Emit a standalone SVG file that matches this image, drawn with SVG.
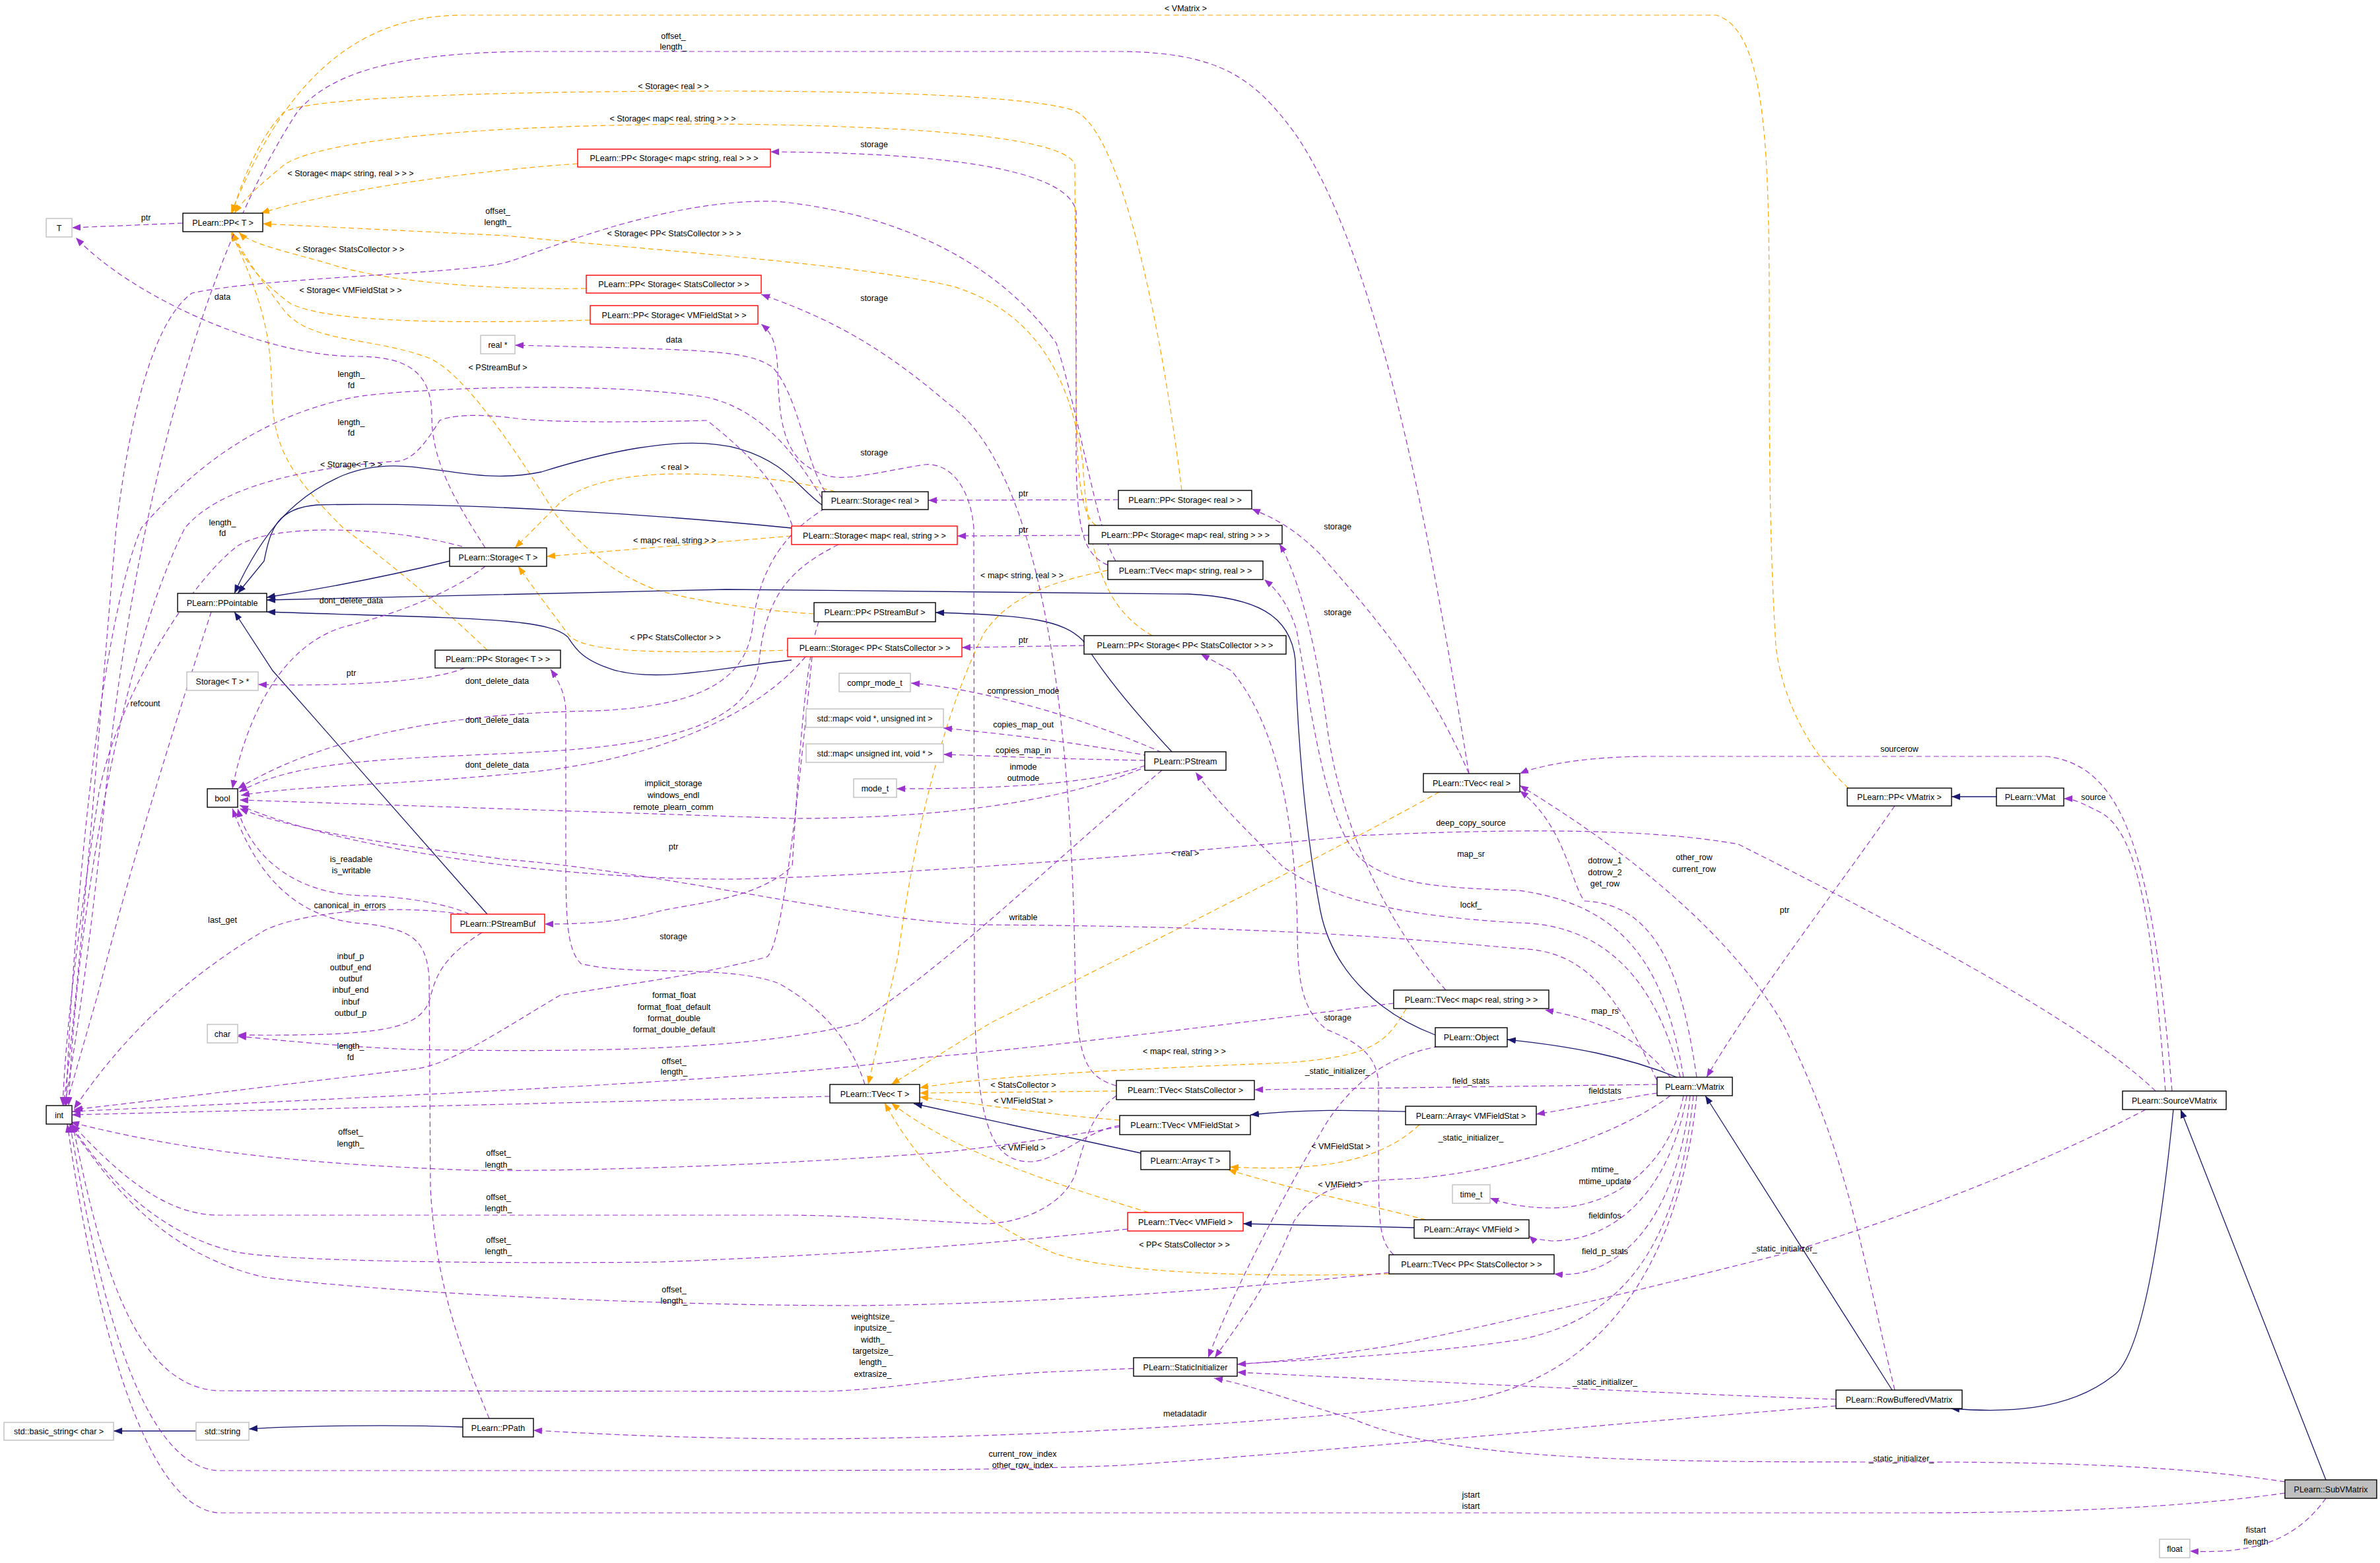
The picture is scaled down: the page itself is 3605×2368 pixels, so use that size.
<svg xmlns="http://www.w3.org/2000/svg" width="3605" height="2368" viewBox="0 0 3605 2368">
<style>
text{font-family:"Liberation Sans",Arial,sans-serif;font-size:12.5px;fill:#000;text-anchor:middle}
.b{fill:#fff;stroke:#000;stroke-width:1.4}
.r{fill:#fff;stroke:#ff0000;stroke-width:1.4}
.g{fill:#fff;stroke:#bfbfbf;stroke-width:1.4}
.p{fill:none;stroke:#9a32cd;stroke-width:1.2;stroke-dasharray:8,5;marker-end:url(#mp)}
.o{fill:none;stroke:#ffa500;stroke-width:1.2;stroke-dasharray:8,5;marker-end:url(#mo)}
.n{fill:none;stroke:#191970;stroke-width:1.3;marker-end:url(#mn)}
</style>
<defs>
<marker id="mp" markerUnits="userSpaceOnUse" markerWidth="14" markerHeight="10" refX="13" refY="5" orient="auto"><path d="M0,0 L13,5 L0,10 z" fill="#9a32cd"/></marker>
<marker id="mo" markerUnits="userSpaceOnUse" markerWidth="14" markerHeight="10" refX="13" refY="5" orient="auto"><path d="M0,0 L13,5 L0,10 z" fill="#ffa500"/></marker>
<marker id="mn" markerUnits="userSpaceOnUse" markerWidth="14" markerHeight="10" refX="13" refY="5" orient="auto"><path d="M0,0 L13,5 L0,10 z" fill="#191970"/></marker>
</defs>
<rect width="3605" height="2368" fill="#fff"/>
<g id="edges">
<path class="o" d="M2800,1194 C2740,1140 2700,1060 2690,980 C2660,500 2720,60 2600,23 L700,23 C520,23 420,150 350,323"/>
<path class="o" d="M1790,743 C1760,500 1700,200 1628,168 C1580,150 1400,138 1100,138 C800,138 470,145 430,170 C400,200 370,260 352,323"/>
<path class="o" d="M1660,796 C1635,780 1630,700 1630,600 L1628,250 C1620,220 1500,192 1100,188 C700,188 480,215 430,250 C400,275 370,300 355,323"/>
<path class="o" d="M875,248 C700,260 500,290 395,323"/>
<path class="o" d="M1745,963 C1690,930 1650,880 1640,700 C1620,560 1560,470 1444,434 C1300,400 1000,380 765,357 L398,339"/>
<path class="o" d="M888,437 C700,440 560,420 500,400 C430,380 380,370 362,352"/>
<path class="o" d="M894,485 C700,490 500,490 440,460 C400,430 370,400 352,352"/>
<path class="o" d="M1233,930 C1150,925 1050,910 995,894 C930,870 880,828 842,780 C780,680 700,560 646,541 C560,510 470,520 430,470 C400,430 370,390 352,352"/>
<path class="o" d="M738,985 C650,900 560,830 520,800 C440,720 415,680 412,600 C410,520 405,470 350,352"/>
<path class="o" d="M1265,745 C1200,725 1100,718 1030,718 C940,718 880,735 850,760 C820,790 800,810 780,830"/>
<path class="o" d="M1199,812 L828,843"/>
<path class="o" d="M1199,985 C1000,990 880,990 860,960 C830,920 800,880 785,858"/>
<path class="o" d="M1678,864 C1600,880 1530,900 1490,960 C1420,1100 1380,1300 1360,1450 L1315,1643"/>
<path class="o" d="M2180,1200 C2000,1300 1700,1450 1500,1550 L1350,1643"/>
<path class="o" d="M2130,1528 C2100,1580 2080,1600 1950,1610 C1700,1620 1500,1630 1393,1648"/>
<path class="o" d="M1691,1653 L1393,1656"/>
<path class="o" d="M1696,1697 C1600,1690 1500,1675 1393,1662"/>
<path class="o" d="M1740,1837 C1620,1800 1450,1750 1350,1671"/>
<path class="o" d="M2104,1930 C1900,1935 1700,1930 1600,1900 C1480,1850 1400,1780 1340,1671"/>
<path class="o" d="M2150,1704 C2090,1760 2000,1775 1863,1768"/>
<path class="o" d="M2160,1848 C2050,1820 1950,1800 1860,1772"/>

<path class="n" d="M681,850 C600,870 500,890 404,905"/>
<path class="n" d="M1245,765 C1210,740 1190,700 1120,680 C1030,655 900,690 820,715 C700,740 620,680 520,720 C450,750 400,800 355,899"/>
<path class="n" d="M1199,800 C1000,780 700,760 480,765 C420,770 410,800 400,850 L360,899"/>
<path class="n" d="M1199,1000 C1100,1010 1000,1035 930,1015 C880,1000 870,980 860,965 C830,935 700,937 404,927"/>
<path class="n" d="M2174,1568 C2100,1540 2020,1480 2000,1380 C1975,1250 1965,1100 1962,1000 C1955,930 1900,905 1800,900 L1100,893 L404,909"/>
<path class="n" d="M738,1385 L413,1016 L355,927"/>
<path class="n" d="M1775,1139 C1720,1080 1670,1020 1640,970 C1610,940 1560,932 1417,928"/>
<path class="n" d="M1728,1747 L1384,1672"/>
<path class="n" d="M2129,1684 C2050,1682 1980,1680 1894,1689"/>
<path class="n" d="M2142,1860 L1883,1854"/>
<path class="n" d="M2540,1632 C2460,1600 2380,1585 2283,1575"/>
<path class="n" d="M2866,2106 L2583,1660"/>
<path class="n" d="M3292,1681 C3270,1900 3240,2060 3200,2085 C3130,2140 3030,2140 2955,2134"/>
<path class="n" d="M3523,2242 L3303,1681"/>
<path class="n" d="M3024,1207 L2956,1207"/>
<path class="n" d="M297,2168 L172,2168"/>
<path class="n" d="M701,2162 C600,2158 450,2160 377,2165"/>

<path class="p" d="M277,338 L109,345"/>
<path class="p" d="M735,830 C690,760 654,700 654,630 C654,560 612,540 540,540 C400,540 200,450 115,360"/>
<path class="p" d="M700,828 C600,800 420,790 360,827 C290,880 180,1050 150,1200 C120,1400 100,1550 95,1675"/>
<path class="p" d="M735,858 C680,900 600,930 520,950 C420,980 370,1100 352,1195"/>
<path class="p" d="M704,1012 C650,1035 500,1040 391,1037"/>
<path class="p" d="M1694,757 L1406,758"/>
<path class="p" d="M1649,811 L1450,812"/>
<path class="p" d="M1642,978 L1457,981"/>
<path class="p" d="M1678,856 C1640,840 1632,800 1630,700 L1630,320 C1620,270 1500,232 1167,230"/>
<path class="p" d="M1691,1645 C1640,1630 1630,1600 1628,1450 C1620,1000 1560,700 1437,612 C1330,520 1250,480 1153,446"/>
<path class="p" d="M1696,1705 C1640,1715 1600,1760 1560,1760 C1500,1760 1478,1700 1476,1500 L1475,800 C1470,740 1440,700 1400,704 C1330,715 1280,730 1250,720 C1190,700 1180,650 1178,560 C1176,520 1170,505 1153,491"/>
<path class="p" d="M2225,1172 C2150,1000 2050,900 2000,840 C1960,800 1930,785 1896,771"/>
<path class="p" d="M2190,1500 C2100,1400 2030,1250 2010,1100 C1990,950 1960,860 1938,824"/>
<path class="p" d="M2111,1901 C2090,1880 2088,1860 2088,1750 L2088,1640 C2085,1600 2060,1580 2010,1560 C1970,1530 1965,1480 1965,1400 C1960,1200 1920,1080 1865,1016 L1819,991"/>
<path class="p" d="M1310,1643 C1290,1580 1250,1530 1180,1490 C1100,1460 960,1480 880,1460 C860,1440 857,1400 857,1300 L857,1080 C857,1050 845,1030 834,1014"/>
<path class="p" d="M1250,770 C1200,800 1150,850 1140,950 C1130,1020 1080,1070 900,1077 C700,1080 500,1110 360,1195"/>
<path class="p" d="M1270,825 C1200,860 1160,900 1150,1000 C1140,1100 1000,1130 800,1140 C600,1150 450,1150 362,1200"/>
<path class="p" d="M1220,995 C1150,1080 1000,1150 800,1170 C600,1190 450,1190 365,1205"/>
<path class="p" d="M1245,755 C1200,680 1150,620 1071,602 C900,575 600,590 535,602 C400,630 300,700 214,800 C150,950 110,1400 100,1675"/>
<path class="p" d="M1200,796 C1180,740 1150,700 1071,637 C950,640 850,640 790,635 C720,625 680,630 666,637 C640,680 620,700 597,699 C450,710 330,740 280,800 C180,1000 115,1400 104,1675"/>
<path class="p" d="M1230,995 C1200,1300 1180,1440 1161,1450 C1050,1480 950,1490 848,1508 C760,1560 680,1615 625,1620 C450,1640 300,1660 112,1681"/>
<path class="p" d="M320,927 C280,1050 200,1300 150,1500 L100,1675"/>
<path class="p" d="M711,1385 C680,1370 612,1358 550,1357 C450,1355 380,1300 360,1225"/>
<path class="p" d="M741,2149 C700,2050 660,1950 652,1800 L650,1480 C645,1420 620,1410 560,1400 C430,1395 380,1300 352,1225"/>
<path class="p" d="M700,1385 C600,1370 460,1380 400,1410 C300,1470 200,1550 112,1680"/>
<path class="p" d="M730,1413 C670,1450 660,1480 652,1510 C640,1560 580,1570 360,1568"/>
<path class="p" d="M1760,1167 C1600,1300 1450,1450 1300,1550 C1150,1590 900,1595 625,1590 C500,1585 420,1575 360,1570"/>
<path class="p" d="M1740,1160 C1600,1220 1400,1240 1200,1240 L363,1212"/>
<path class="p" d="M1240,942 C1220,1000 1210,1150 1200,1312 C1150,1360 1063,1367 1000,1380 C950,1395 900,1400 825,1400"/>
<path class="p" d="M2520,1660 C2450,1500 2400,1440 2300,1437 C2100,1420 1942,1404 1483,1401 C1300,1395 1000,1320 765,1302 C600,1280 450,1260 363,1225"/>
<path class="p" d="M3265,1653 C3200,1590 3049,1488 2633,1279 C2500,1255 2300,1255 2056,1266 C1800,1292 1300,1330 1100,1332 C800,1330 500,1280 363,1220"/>
<path class="p" d="M2545,1632 C2500,1450 2400,1400 2300,1398 C2150,1390 2018,1368 1942,1312 C1880,1250 1840,1210 1811,1170"/>
<path class="p" d="M2550,1632 C2520,1450 2450,1370 2300,1349 C2200,1345 2110,1344 2060,1300 C2010,1250 1990,1100 1964,955 C1950,910 1930,890 1915,878"/>
<path class="p" d="M2530,1632 C2480,1570 2420,1545 2340,1530"/>
<path class="p" d="M1760,1140 C1600,1070 1450,1040 1380,1035"/>
<path class="p" d="M1740,1145 C1600,1120 1500,1110 1429,1103"/>
<path class="p" d="M1734,1152 C1600,1150 1500,1145 1429,1143"/>
<path class="p" d="M1734,1160 C1650,1190 1500,1195 1358,1195"/>
<path class="p" d="M3290,1653 C3260,1300 3220,1160 3100,1146 L2500,1146 C2400,1146 2330,1160 2302,1172"/>
<path class="p" d="M3280,1653 C3260,1400 3240,1260 3180,1230 C3150,1215 3140,1210 3126,1210"/>
<path class="p" d="M2870,1221 C2780,1350 2650,1520 2585,1632"/>
<path class="p" d="M2570,1632 C2550,1500 2520,1370 2400,1365 C2380,1340 2370,1250 2302,1198"/>
<path class="p" d="M2870,2106 C2820,1900 2800,1750 2700,1550 C2600,1380 2400,1250 2302,1190"/>
<path class="p" d="M2510,1656 C2450,1665 2380,1680 2327,1688"/>
<path class="p" d="M2510,1643 L1900,1651"/>
<path class="p" d="M2180,1585 C2100,1600 2050,1640 2010,1700 C1950,1800 1870,1950 1830,2057"/>
<path class="p" d="M2530,1660 C2450,1720 2300,1770 2150,1785 C2050,1790 2000,1790 1960,1850 C1920,1950 1880,2000 1840,2057"/>
<path class="p" d="M3250,1681 C3100,1760 2900,1840 2700,1900 C2500,1950 2300,2000 2100,2040 C2000,2055 1950,2062 1874,2067"/>
<path class="p" d="M2781,2120 C2500,2110 2200,2095 1874,2079"/>
<path class="p" d="M3461,2245 C3300,2220 3100,2215 2900,2215 C2500,2215 2200,2215 2050,2150 C1950,2120 1900,2100 1839,2088"/>
<path class="p" d="M2550,1660 C2530,1760 2450,1830 2350,1830 C2300,1830 2270,1820 2257,1815"/>
<path class="p" d="M2555,1660 C2530,1800 2450,1880 2350,1880 C2330,1878 2320,1876 2316,1872"/>
<path class="p" d="M2560,1660 C2540,1850 2450,1940 2354,1930"/>
<path class="p" d="M2565,1660 C2540,1900 2450,2000 2300,2030 C2100,2060 1800,2070 1600,2078 C1450,2085 1350,2105 1250,2108 L330,2107 C200,2100 150,1900 110,1703"/>
<path class="p" d="M2570,1660 C2540,1950 2400,2100 2200,2125 C1900,2160 1500,2180 1200,2180 C1000,2178 900,2172 808,2167"/>
<path class="p" d="M2781,2130 C2400,2160 2000,2200 1700,2220 C1500,2228 1300,2228 1000,2228 L330,2228 C200,2220 140,1900 106,1703"/>
<path class="p" d="M3461,2262 C3300,2285 3100,2292 2900,2292 L330,2292 C200,2280 130,1900 102,1703"/>
<path class="p" d="M3523,2270 C3480,2330 3420,2355 3317,2350"/>
<path class="p" d="M2225,1172 C2180,900 2100,400 1960,200 C1900,120 1850,80 1700,78 L800,78 C600,80 500,110 450,170 C300,400 200,800 160,1200 C140,1400 120,1550 98,1675"/>
<path class="p" d="M1690,850 C1660,800 1640,650 1600,520 C1500,380 1330,320 1176,305 C1000,300 800,390 765,398 C700,415 400,420 291,444 C240,480 200,600 176,800 C150,1100 120,1500 96,1675"/>
<path class="p" d="M1257,1661 L109,1689"/>
<path class="p" d="M2111,1520 C1800,1560 1500,1595 1400,1602 C1200,1635 600,1660 109,1684"/>
<path class="p" d="M1696,1707 C1600,1725 1450,1745 1400,1748 C1100,1770 800,1775 714,1773 C500,1765 300,1750 107,1700"/>
<path class="p" d="M1691,1660 C1650,1690 1640,1740 1629,1778 C1610,1830 1540,1854 1491,1854 C1400,1850 1300,1842 1200,1841 L330,1841 C250,1840 180,1780 109,1703"/>
<path class="p" d="M1708,1862 C1500,1885 1300,1900 1000,1912 C700,1915 400,1910 350,1895 C250,1870 170,1800 107,1703"/>
<path class="p" d="M2104,1928 C1900,1950 1600,1975 1300,1978 C1000,1978 600,1960 400,1935 C250,1900 170,1800 105,1703"/>
<path class="p" d="M1250,745 C1220,700 1210,600 1170,556 C1130,530 1071,530 780,523"/>
</g>
<g id="labels">
<text x="1796" y="17">&lt; VMatrix &gt;</text>
<text x="1020" y="59">offset_</text><text x="1020" y="75">length_</text>
<text x="1020" y="135">&lt; Storage&lt; real &gt; &gt;</text>
<text x="1019" y="184">&lt; Storage&lt; map&lt; real, string &gt; &gt; &gt;</text>
<text x="1324" y="223">storage</text>
<text x="531" y="267">&lt; Storage&lt; map&lt; string, real &gt; &gt; &gt;</text>
<text x="221" y="334">ptr</text>
<text x="754" y="324">offset_</text><text x="754" y="341">length_</text>
<text x="1021" y="358">&lt; Storage&lt; PP&lt; StatsCollector &gt; &gt; &gt;</text>
<text x="530" y="382">&lt; Storage&lt; StatsCollector &gt; &gt;</text>
<text x="337" y="454">data</text>
<text x="531" y="444">&lt; Storage&lt; VMFieldStat &gt; &gt;</text>
<text x="1324" y="456">storage</text>
<text x="1021" y="519">data</text>
<text x="754" y="561">&lt; PStreamBuf &gt;</text>
<text x="532" y="571">length_</text><text x="532" y="588">fd</text>
<text x="532" y="644">length_</text><text x="532" y="660">fd</text>
<text x="1324" y="690">storage</text>
<text x="532" y="708">&lt; Storage&lt; T &gt; &gt;</text>
<text x="1022" y="712">&lt; real &gt;</text>
<text x="1550" y="752">ptr</text>
<text x="337" y="796">length_</text><text x="337" y="812">fd</text>
<text x="2026" y="802">storage</text>
<text x="1550" y="807">ptr</text>
<text x="1022" y="823">&lt; map&lt; real, string &gt; &gt;</text>
<text x="1548" y="876">&lt; map&lt; string, real &gt; &gt;</text>
<text x="532" y="914">dont_delete_data</text>
<text x="2026" y="932">storage</text>
<text x="1023" y="970">&lt; PP&lt; StatsCollector &gt; &gt;</text>
<text x="1550" y="974">ptr</text>
<text x="532" y="1024">ptr</text>
<text x="753" y="1036">dont_delete_data</text>
<text x="1550" y="1051">compression_mode</text>
<text x="220" y="1070">refcount</text>
<text x="753" y="1095">dont_delete_data</text>
<text x="1550" y="1102">copies_map_out</text>
<text x="2877" y="1139">sourcerow</text>
<text x="1550" y="1141">copies_map_in</text>
<text x="753" y="1163">dont_delete_data</text>
<text x="1550" y="1166">inmode</text><text x="1550" y="1183">outmode</text>
<text x="1020" y="1191">implicit_storage</text><text x="1020" y="1209">windows_endl</text><text x="1020" y="1227">remote_plearn_comm</text>
<text x="3171" y="1212">source</text>
<text x="2228" y="1251">deep_copy_source</text>
<text x="1020" y="1287">ptr</text>
<text x="1795" y="1297">&lt; real &gt;</text>
<text x="2228" y="1298">map_sr</text>
<text x="2566" y="1303">other_row</text><text x="2566" y="1321">current_row</text>
<text x="2431" y="1308">dotrow_1</text><text x="2431" y="1326">dotrow_2</text><text x="2431" y="1343">get_row</text>
<text x="532" y="1306">is_readable</text><text x="532" y="1323">is_writable</text>
<text x="2228" y="1375">lockf_</text>
<text x="530" y="1376">canonical_in_errors</text>
<text x="2703" y="1383">ptr</text>
<text x="1550" y="1394">writable</text>
<text x="337" y="1398">last_get</text>
<text x="1020" y="1423">storage</text>
<text x="531" y="1453">inbuf_p</text><text x="531" y="1470">outbuf_end</text><text x="531" y="1487">outbuf</text><text x="531" y="1504">inbuf_end</text><text x="531" y="1522">inbuf</text><text x="531" y="1539">outbuf_p</text>
<text x="1021" y="1512">format_float</text><text x="1021" y="1530">format_float_default</text><text x="1021" y="1547">format_double</text><text x="1021" y="1564">format_double_default</text>
<text x="2431" y="1536">map_rs</text>
<text x="2026" y="1546">storage</text>
<text x="531" y="1589">length_</text><text x="531" y="1606">fd</text>
<text x="1794" y="1597">&lt; map&lt; real, string &gt; &gt;</text>
<text x="1021" y="1612">offset_</text><text x="1021" y="1628">length_</text>
<text x="2026" y="1627">_static_initializer_</text>
<text x="2228" y="1642">field_stats</text>
<text x="1550" y="1648">&lt; StatsCollector &gt;</text>
<text x="2431" y="1657">fieldstats</text>
<text x="1550" y="1672">&lt; VMFieldStat &gt;</text>
<text x="531" y="1719">offset_</text><text x="531" y="1737">length_</text>
<text x="2228" y="1728">_static_initializer_</text>
<text x="2031" y="1741">&lt; VMFieldStat &gt;</text>
<text x="1550" y="1743">&lt; VMField &gt;</text>
<text x="755" y="1751">offset_</text><text x="755" y="1769">length_</text>
<text x="2431" y="1776">mtime_</text><text x="2431" y="1794">mtime_update</text>
<text x="2030" y="1799">&lt; VMField &gt;</text>
<text x="755" y="1818">offset_</text><text x="755" y="1835">length_</text>
<text x="2431" y="1846">fieldinfos</text>
<text x="755" y="1883">offset_</text><text x="755" y="1900">length_</text>
<text x="1794" y="1890">&lt; PP&lt; StatsCollector &gt; &gt;</text>
<text x="2703" y="1896">_static_initializer_</text>
<text x="2431" y="1900">field_p_stats</text>
<text x="1021" y="1958">offset_</text><text x="1021" y="1975">length_</text>
<text x="1322" y="1999">weightsize_</text><text x="1322" y="2016">inputsize_</text><text x="1322" y="2034">width_</text><text x="1322" y="2051">targetsize_</text><text x="1322" y="2068">length_</text><text x="1322" y="2086">extrasize_</text>
<text x="2431" y="2098">_static_initializer_</text>
<text x="1795" y="2146">metadatadir</text>
<text x="1549" y="2207">current_row_index</text><text x="1549" y="2224">other_row_index</text>
<text x="2880" y="2214">_static_initializer_</text>
<text x="2228" y="2269">jstart</text><text x="2228" y="2286">istart</text>
<text x="3417" y="2322">fistart</text><text x="3417" y="2340">flength</text>
</g>
<g id="n_T"><rect class="g" x="70" y="331" width="39" height="28"/><text x="89.5" y="349.5">T</text></g>
<g id="n_PPT"><rect class="b" x="277" y="323" width="121" height="28"/><text x="337.5" y="341.5">PLearn::PP&lt; T &gt;</text></g>
<g id="n_PPSMSR"><rect class="r" x="875" y="226" width="292" height="27"/><text x="1021" y="244">PLearn::PP&lt; Storage&lt; map&lt; string, real &gt; &gt; &gt;</text></g>
<g id="n_PPSSC"><rect class="r" x="888" y="417" width="265" height="27"/><text x="1020.5" y="435">PLearn::PP&lt; Storage&lt; StatsCollector &gt; &gt;</text></g>
<g id="n_PPSVF"><rect class="r" x="894" y="463" width="254" height="28"/><text x="1021" y="481.5">PLearn::PP&lt; Storage&lt; VMFieldStat &gt; &gt;</text></g>
<g id="n_realp"><rect class="g" x="728" y="508" width="52" height="28"/><text x="754" y="526.5">real *</text></g>
<g id="n_StorageT"><rect class="b" x="681" y="830" width="147" height="28"/><text x="754.5" y="848.5">PLearn::Storage&lt; T &gt;</text></g>
<g id="n_PPointable"><rect class="b" x="269" y="899" width="135" height="28"/><text x="336.5" y="917.5">PLearn::PPointable</text></g>
<g id="n_PPST"><rect class="b" x="659" y="985" width="190" height="27"/><text x="754" y="1003">PLearn::PP&lt; Storage&lt; T &gt; &gt;</text></g>
<g id="n_STp"><rect class="g" x="283" y="1018" width="108" height="28"/><text x="337" y="1036.5">Storage&lt; T &gt; *</text></g>
<g id="n_bool"><rect class="b" x="314" y="1195" width="46" height="28"/><text x="337" y="1213.5">bool</text></g>
<g id="n_PStreamBuf"><rect class="r" x="683" y="1385" width="142" height="28"/><text x="754" y="1403.5">PLearn::PStreamBuf</text></g>
<g id="n_char"><rect class="g" x="314" y="1552" width="46" height="28"/><text x="337" y="1570.5">char</text></g>
<g id="n_int"><rect class="b" x="70" y="1675" width="39" height="28"/><text x="89.5" y="1693.5">int</text></g>
<g id="n_TVecT"><rect class="b" x="1257" y="1643" width="136" height="28"/><text x="1325" y="1661.5">PLearn::TVec&lt; T &gt;</text></g>
<g id="n_bstr"><rect class="g" x="6" y="2155" width="166" height="27"/><text x="89" y="2173">std::basic_string&lt; char &gt;</text></g>
<g id="n_str"><rect class="g" x="297" y="2155" width="80" height="27"/><text x="337" y="2173">std::string</text></g>
<g id="n_PPath"><rect class="b" x="701" y="2149" width="107" height="28"/><text x="754.5" y="2167.5">PLearn::PPath</text></g>
<g id="n_SR"><rect class="b" x="1245" y="745" width="161" height="27"/><text x="1325.5" y="763">PLearn::Storage&lt; real &gt;</text></g>
<g id="n_PPSR"><rect class="b" x="1694" y="743" width="202" height="28"/><text x="1795" y="761.5">PLearn::PP&lt; Storage&lt; real &gt; &gt;</text></g>
<g id="n_SMRS"><rect class="r" x="1199" y="797" width="251" height="28"/><text x="1324.5" y="815.5">PLearn::Storage&lt; map&lt; real, string &gt; &gt;</text></g>
<g id="n_PPSMRS"><rect class="b" x="1649" y="796" width="293" height="28"/><text x="1795.5" y="814.5">PLearn::PP&lt; Storage&lt; map&lt; real, string &gt; &gt; &gt;</text></g>
<g id="n_TVMSR"><rect class="b" x="1678" y="850" width="235" height="28"/><text x="1795.5" y="868.5">PLearn::TVec&lt; map&lt; string, real &gt; &gt;</text></g>
<g id="n_PPPSB"><rect class="b" x="1233" y="913" width="184" height="29"/><text x="1325" y="932">PLearn::PP&lt; PStreamBuf &gt;</text></g>
<g id="n_SPPSC"><rect class="r" x="1193" y="967" width="264" height="28"/><text x="1325" y="985.5">PLearn::Storage&lt; PP&lt; StatsCollector &gt; &gt;</text></g>
<g id="n_PPSPPSC"><rect class="b" x="1642" y="963" width="306" height="28"/><text x="1795" y="981.5">PLearn::PP&lt; Storage&lt; PP&lt; StatsCollector &gt; &gt; &gt;</text></g>
<g id="n_cmt"><rect class="g" x="1271" y="1020" width="108" height="28"/><text x="1325" y="1038.5">compr_mode_t</text></g>
<g id="n_mvu"><rect class="g" x="1221" y="1074" width="208" height="28"/><text x="1325" y="1092.5">std::map&lt; void *, unsigned int &gt;</text></g>
<g id="n_muv"><rect class="g" x="1221" y="1127" width="208" height="28"/><text x="1325" y="1145.5">std::map&lt; unsigned int, void * &gt;</text></g>
<g id="n_mode"><rect class="g" x="1293" y="1180" width="65" height="28"/><text x="1325.5" y="1198.5">mode_t</text></g>
<g id="n_PStream"><rect class="b" x="1734" y="1139" width="123" height="28"/><text x="1795.5" y="1157.5">PLearn::PStream</text></g>
<g id="n_TVR"><rect class="b" x="2156" y="1172" width="146" height="28"/><text x="2229" y="1190.5">PLearn::TVec&lt; real &gt;</text></g>
<g id="n_TVMRS"><rect class="b" x="2111" y="1500" width="235" height="28"/><text x="2228.5" y="1518.5">PLearn::TVec&lt; map&lt; real, string &gt; &gt;</text></g>
<g id="n_Object"><rect class="b" x="2174" y="1557" width="109" height="29"/><text x="2228.5" y="1576">PLearn::Object</text></g>
<g id="n_TVSC"><rect class="b" x="1691" y="1637" width="209" height="29"/><text x="1795.5" y="1656">PLearn::TVec&lt; StatsCollector &gt;</text></g>
<g id="n_AVFS"><rect class="b" x="2129" y="1676" width="198" height="28"/><text x="2228" y="1694.5">PLearn::Array&lt; VMFieldStat &gt;</text></g>
<g id="n_TVVFS"><rect class="b" x="1696" y="1690" width="198" height="29"/><text x="1795" y="1709">PLearn::TVec&lt; VMFieldStat &gt;</text></g>
<g id="n_AT"><rect class="b" x="1728" y="1744" width="135" height="28"/><text x="1795.5" y="1762.5">PLearn::Array&lt; T &gt;</text></g>
<g id="n_time"><rect class="g" x="2200" y="1795" width="57" height="28"/><text x="2228.5" y="1813.5">time_t</text></g>
<g id="n_TVVF"><rect class="r" x="1708" y="1837" width="175" height="28"/><text x="1795.5" y="1855.5">PLearn::TVec&lt; VMField &gt;</text></g>
<g id="n_AVF"><rect class="b" x="2142" y="1848" width="174" height="28"/><text x="2229" y="1866.5">PLearn::Array&lt; VMField &gt;</text></g>
<g id="n_TVPPSC"><rect class="b" x="2104" y="1901" width="250" height="29"/><text x="2229" y="1920">PLearn::TVec&lt; PP&lt; StatsCollector &gt; &gt;</text></g>
<g id="n_SI"><rect class="b" x="1717" y="2057" width="157" height="28"/><text x="1795.5" y="2075.5">PLearn::StaticInitializer</text></g>
<g id="n_PPVM"><rect class="b" x="2798" y="1194" width="158" height="27"/><text x="2877" y="1212">PLearn::PP&lt; VMatrix &gt;</text></g>
<g id="n_VMat"><rect class="b" x="3024" y="1194" width="102" height="27"/><text x="3075" y="1212">PLearn::VMat</text></g>
<g id="n_VMatrix"><rect class="b" x="2510" y="1632" width="114" height="28"/><text x="2567" y="1650.5">PLearn::VMatrix</text></g>
<g id="n_Source"><rect class="b" x="3215" y="1653" width="157" height="28"/><text x="3293.5" y="1671.5">PLearn::SourceVMatrix</text></g>
<g id="n_RowBuf"><rect class="b" x="2781" y="2106" width="191" height="28"/><text x="2876.5" y="2124.5">PLearn::RowBufferedVMatrix</text></g>
<g id="n_Sub"><rect x="3461" y="2242" width="139" height="28" fill="#bfbfbf" stroke="#000" stroke-width="1.4"/><text x="3530.5" y="2260.5">PLearn::SubVMatrix</text></g>
<g id="n_float"><rect class="g" x="3271" y="2332" width="46" height="28"/><text x="3294" y="2350.5">float</text></g>
</svg>
